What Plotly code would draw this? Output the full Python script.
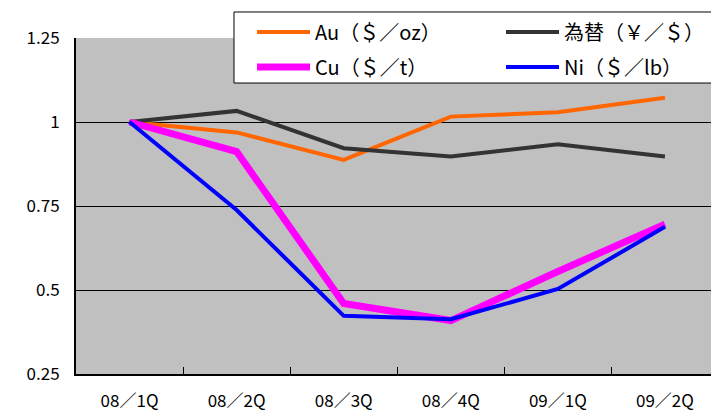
import plotly.graph_objects as go

categories = ["08／1Q", "08／2Q", "08／3Q", "08／4Q", "09／1Q", "09／2Q"]
au = [1.0, 0.969, 0.887, 1.016, 1.029, 1.072]
fx = [1.0, 1.033, 0.922, 0.897, 0.934, 0.897]
cu = [1.0, 0.912, 0.460, 0.409, 0.555, 0.696]
ni = [1.0, 0.738, 0.423, 0.413, 0.503, 0.688]
y_ticks = [0.25, 0.5, 0.75, 1, 1.25]
y_tick_text = ["0.25", "0.5", "0.75", "1", "1.25"]
grid_vals = [0.5, 0.75, 1]

FONT = "Noto Sans CJK JP"

fig = go.Figure()
fig.add_trace(go.Scatter(x=categories, y=au, mode="lines", name="Au（＄／oz）",
                         line=dict(color="#FF6600", width=4), legend="legend"))
fig.add_trace(go.Scatter(x=categories, y=fx, mode="lines", name="為替（￥／＄）",
                         line=dict(color="#333333", width=4), legend="legend2"))
fig.add_trace(go.Scatter(x=categories, y=cu, mode="lines", name="Cu（＄／t）",
                         line=dict(color="#FF00FF", width=7), legend="legend3"))
fig.add_trace(go.Scatter(x=categories, y=ni, mode="lines", name="Ni（＄／lb）",
                         line=dict(color="#0000FF", width=4), legend="legend4"))
# dummy trace to activate yaxis2 grid
fig.add_trace(go.Scatter(x=categories, y=[None]*len(categories), yaxis="y2",
                         showlegend=False, hoverinfo="skip"))

leg_common = dict(bgcolor="rgba(0,0,0,0)", borderwidth=0,
                  font=dict(family=FONT, size=20, color="black"),
                  xanchor="left", yanchor="middle", itemwidth=53)

fig.update_layout(
    width=711, height=411,
    margin=dict(l=76, r=0, t=38, b=37, autoexpand=False),
    paper_bgcolor="white",
    plot_bgcolor="#C0C0C0",
    font=dict(family=FONT, size=17, color="black"),
    xaxis=dict(
        type="category", range=[-0.5, 5.43],
        tickson="boundaries", ticks="inside", ticklen=7, tickcolor="black",
        showgrid=False, showline=True, linecolor="black", linewidth=2,
        tickfont=dict(size=17), ticklabelstandoff=11,
    ),
    yaxis=dict(
        range=[0.25, 1.25], tickvals=y_ticks, ticktext=y_tick_text,
        showgrid=False, showline=True, linecolor="black", linewidth=2,
        ticks="inside", ticklen=5, tickcolor="black",
        tickfont=dict(size=17), ticklabelstandoff=11, zeroline=False,
    ),
    yaxis2=dict(
        range=[0.25, 1.25], overlaying="y", tickvals=grid_vals,
        showgrid=True, gridcolor="black", gridwidth=1,
        showticklabels=False, ticks="", zeroline=False, showline=False,
    ),
    legend=dict(x=0.2772, y=1.0179, **leg_common),
    legend2=dict(x=0.6693, y=1.0179, **leg_common),
    legend3=dict(x=0.2772, y=0.9137, **leg_common),
    legend4=dict(x=0.6693, y=0.9137, **leg_common),
    shapes=[dict(type="rect", xref="paper", yref="paper",
                 x0=0.2488, x1=1.02, y0=0.866, y1=1.0774,
                 fillcolor="white", line=dict(color="black", width=1),
                 layer="above")],
    showlegend=True,
)

fig.write_html("out.html", config={"displayModeBar": False},
               post_script="document.body.style.margin='0';")
